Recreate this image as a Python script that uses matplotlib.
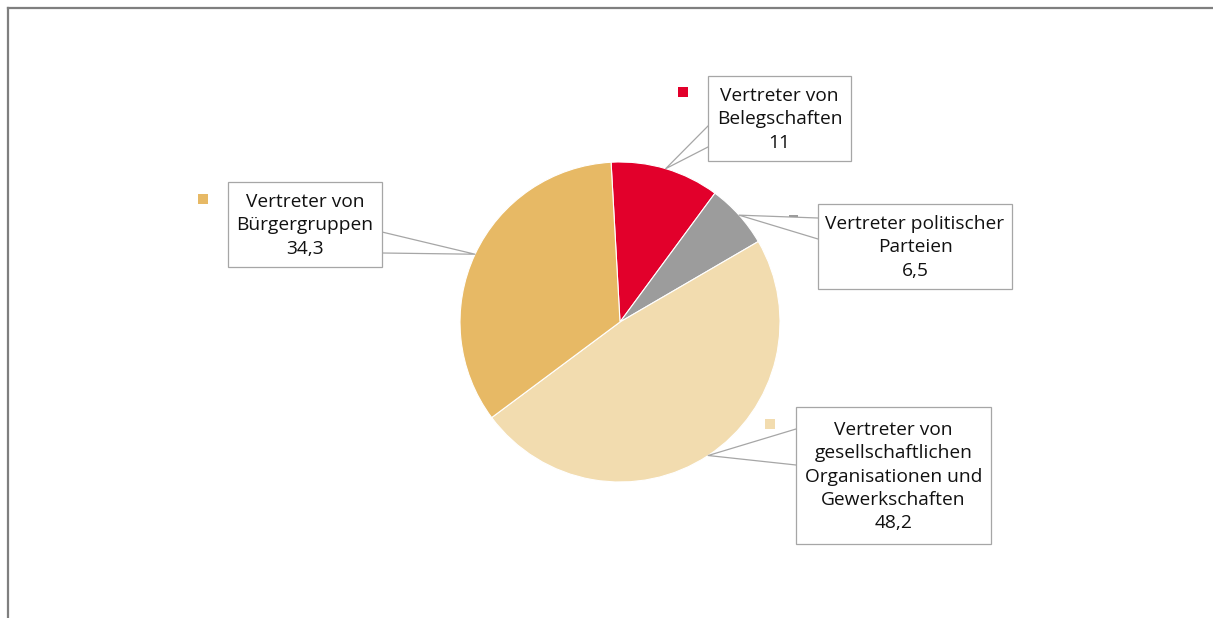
import matplotlib.pyplot as plt
from matplotlib.patches import Rectangle
import numpy as np

plt.rcParams['font.family'] = ['Open Sans', 'DejaVu Sans']

# data (clockwise from top)
labels = ['Vertreter von\nBelegschaften', 'Vertreter politischer\nParteien',
          'Vertreter von\ngesellschaftlichen\nOrganisationen und\nGewerkschaften',
          'Vertreter von\nBürgergruppen']
values = [11, 6.5, 48.2, 34.3]
value_text = ['11', '6,5', '48,2', '34,3']
colors = ['#E2002B', '#9C9C9C', '#F2DCAF', '#E7B965']

W, H = 1213, 618
fig = plt.figure(figsize=(W / 100, H / 100), dpi=100)
ax = fig.add_axes([0, 0, 1, 1])

cx, cy, r = 620, H - 322, 160
wedges, _ = ax.pie(values, colors=colors, startangle=93.2, counterclock=False,
                   center=(cx, cy), radius=r, frame=True,
                   wedgeprops=dict(edgecolor='white', linewidth=0.8))
ax.set_xlim(0, W)
ax.set_ylim(0, H)
ax.set_aspect('equal')
ax.axis('off')

# label boxes in pixel coords: (left, top, right, bottom), callout side, attach y's, marker
boxes = [
    dict(box=(708, 76, 851, 161), side='left', att=(126, 147), mk=(683, 92), mks=(10, 10)),
    dict(box=(818, 204, 1012, 289), side='left', att=(218, 239), mk=(793, 216), mks=(9, 2)),
    dict(box=(796, 407, 991, 544), side='left', att=(429, 465), mk=(770, 424), mks=(10, 10)),
    dict(box=(228, 182, 382, 267), side='right', att=(232, 253), mk=(203, 199), mks=(10, 10)),
]

for w, lab, val, col, b in zip(wedges, labels, value_text, colors, boxes):
    ang = np.deg2rad((w.theta1 + w.theta2) / 2)
    px = cx + r * np.cos(ang)
    py = cy + r * np.sin(ang)
    x0, y0, x1, y1 = b['box']
    ax.add_patch(Rectangle((x0, H - y1), x1 - x0, y1 - y0, facecolor='white',
                           edgecolor='#A6A6A6', linewidth=0.9, zorder=3))
    ex = x0 if b['side'] == 'left' else x1
    ya, yb = b['att']
    ax.plot([ex, px, ex], [H - ya, py, H - yb], color='#A6A6A6', lw=0.9, zorder=2)
    ax.text((x0 + x1) / 2, H - (y0 + y1) / 2 - 1, lab + '\n' + val, ha='center', va='center',
            fontsize=13.8, linespacing=1.36, color='#111111', zorder=4)
    mx, my = b['mk']
    sw, sh = b['mks']
    ax.add_patch(Rectangle((mx - sw / 2, H - my - sh / 2), sw, sh, facecolor=col,
                           edgecolor='none', zorder=3))

# outer frame (top and left visible)
ax.plot([8, W + 5], [H - 8, H - 8], color='#7F7F7F', lw=1.6, clip_on=False)
ax.plot([8, 8], [H - 8, -5], color='#7F7F7F', lw=1.6, clip_on=False)

fig.savefig('out.png', dpi=100, facecolor='white')
